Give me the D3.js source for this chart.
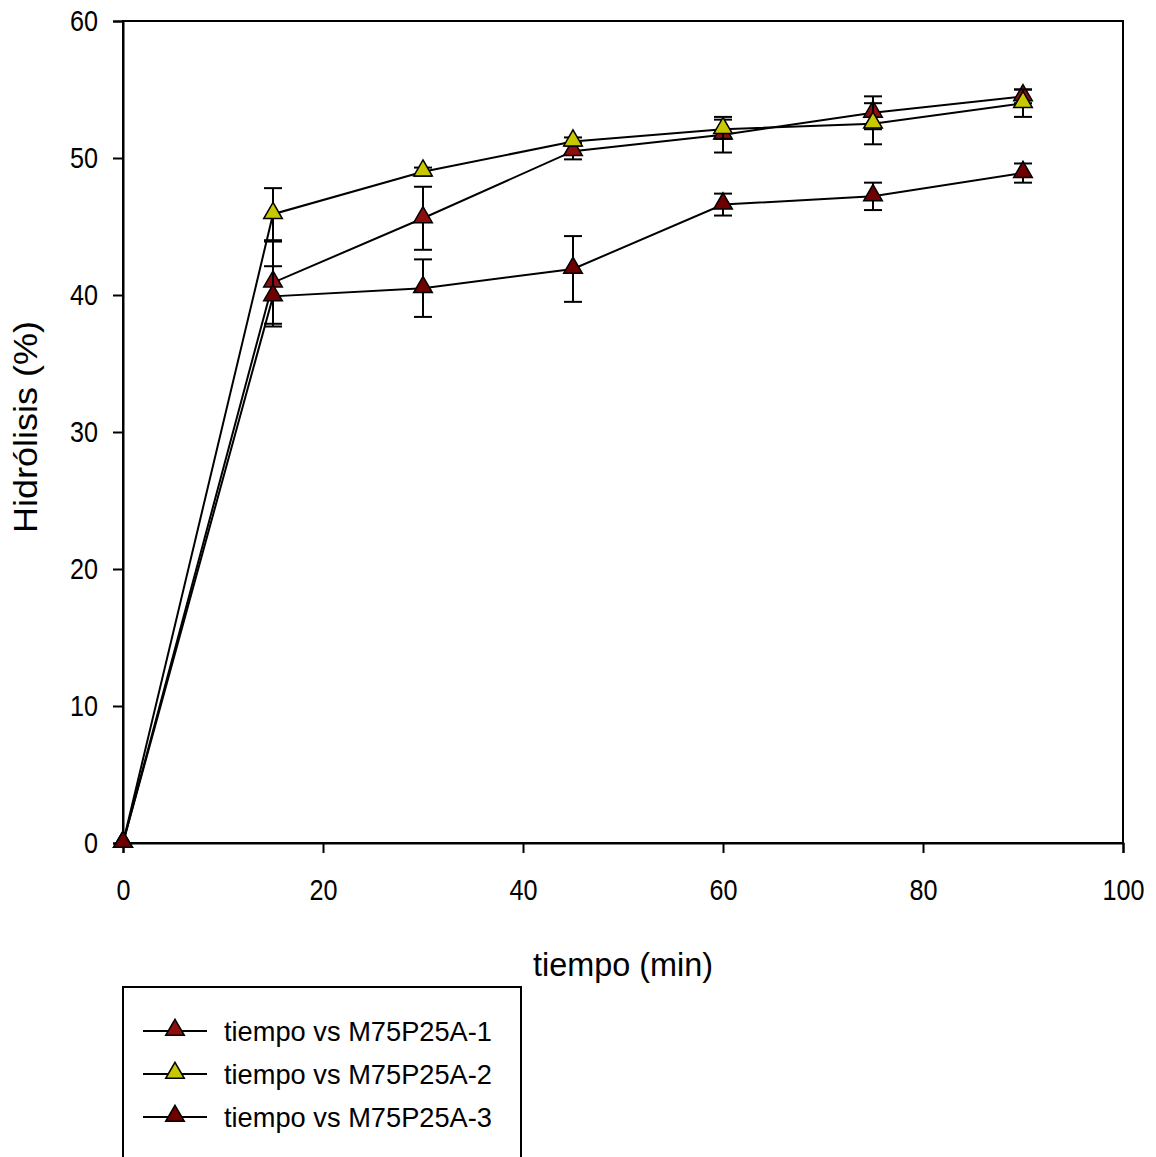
<!DOCTYPE html>
<html>
<head>
<meta charset="utf-8">
<script src="https://cdn.jsdelivr.net/npm/d3@7"></script>
<style>
  body { margin: 0; background: #fff; }
  svg { font-family: "Liberation Sans", Arial, sans-serif; }
</style>
</head>
<body>
<div id="chart"></div>
<script>
// data
const tiempo = [0, 15, 30, 45, 60, 75, 90];
const names = ["tiempo vs M75P25A-1", "tiempo vs M75P25A-2", "tiempo vs M75P25A-3"];
const s1 = [0, 40.9, 45.6, 50.5, 51.7, 53.3, 54.5];
const s1err = [0, 3.0, 2.3, 0.6, 1.3, 1.2, 0.5];
const s2 = [0, 45.9, 49.0, 51.2, 52.1, 52.5, 54.0];
const s2err = [0, 1.9, 0.3, 0.3, 0.7, 1.5, 1.0];
const s3 = [0, 39.9, 40.5, 41.9, 46.6, 47.2, 48.9];
const s3err = [0, 2.2, 2.1, 2.4, 0.8, 1.0, 0.7];
const xTicks = [0, 20, 40, 60, 80, 100];
const yTicks = [0, 10, 20, 30, 40, 50, 60];
const colors = ["#8e0d0d", "#c8c800", "#6e0000"];

const series = [
  {name: names[0], y: s1, e: s1err, color: colors[0]},
  {name: names[1], y: s2, e: s2err, color: colors[1]},
  {name: names[2], y: s3, e: s3err, color: colors[2]}
];

const W = 1156, H = 1157;
const margin = {top: 21, left: 123, right: 33, bottom: 314};
const width = W - margin.left - margin.right;   // 1000
const height = H - margin.top - margin.bottom;  // 822

const svg = d3.select("#chart").append("svg")
  .attr("width", W).attr("height", H);

const g = svg.append("g")
  .attr("transform", "translate(" + margin.left + "," + margin.top + ")");

const x = d3.scaleLinear().domain([0, 100]).range([0, width]);
const y = d3.scaleLinear().domain([0, 60]).range([height, 0]);

// narrow the glyphs a bit, the original font is condensed
function squeeze(sel, perChar) {
  sel.each(function() {
    const t = d3.select(this);
    t.attr("textLength", t.text().length * perChar)
     .attr("lengthAdjust", "spacingAndGlyphs");
  });
}

/* frame */
g.append("rect")
  .attr("width", width).attr("height", height)
  .attr("fill", "none").attr("stroke", "#000").attr("stroke-width", 2);

/* axes */
const xAxis = d3.axisBottom(x).tickValues(xTicks).tickSize(10).tickPadding(26);
const yAxis = d3.axisLeft(y).tickValues(yTicks).tickSize(10).tickPadding(15);

g.append("g")
  .attr("transform", "translate(0," + height + ")")
  .call(xAxis)
  .call(a => a.select(".domain").attr("stroke-width", 2))
  .call(a => a.selectAll(".tick line").attr("stroke-width", 2))
  .call(a => a.selectAll("text").style("font-size", "30px").attr("fill", "#000").call(squeeze, 14));

g.append("g")
  .call(yAxis)
  .call(a => a.select(".domain").attr("stroke-width", 2))
  .call(a => a.selectAll(".tick line").attr("stroke-width", 2))
  .call(a => a.selectAll("text").style("font-size", "30px").attr("fill", "#000").call(squeeze, 14));

/* axis titles */
svg.append("text")
  .attr("x", margin.left + width / 2).attr("y", 976)
  .attr("text-anchor", "middle")
  .style("font-size", "34px")
  .attr("textLength", 180).attr("lengthAdjust", "spacingAndGlyphs")
  .text("tiempo (min)");

svg.append("text")
  .attr("transform", "translate(37,427) rotate(-90)")
  .attr("text-anchor", "middle")
  .style("font-size", "33px")
  .attr("textLength", 212).attr("lengthAdjust", "spacingAndGlyphs")
  .text("Hidrólisis (%)");

const tri = d3.symbol().type(d3.symbolTriangle).size(150);
const capW = 9;

/* series */
series.forEach(s => {
  const pts = tiempo.map((t, i) => ({t: t, v: s.y[i], e: s.e[i]}));
  const sg = g.append("g");

  sg.append("path")
    .datum(pts)
    .attr("fill", "none")
    .attr("stroke", "#000")
    .attr("stroke-width", 2)
    .attr("d", d3.line().x(d => x(d.t)).y(d => y(d.v)));

  const eb = sg.selectAll(".err")
    .data(pts.filter(d => d.e > 0))
    .enter().append("g")
    .attr("stroke", "#000").attr("stroke-width", 2);
  eb.append("line")
    .attr("x1", d => x(d.t)).attr("x2", d => x(d.t))
    .attr("y1", d => y(d.v + d.e)).attr("y2", d => y(d.v - d.e));
  eb.append("line")
    .attr("x1", d => x(d.t) - capW).attr("x2", d => x(d.t) + capW)
    .attr("y1", d => y(d.v + d.e)).attr("y2", d => y(d.v + d.e));
  eb.append("line")
    .attr("x1", d => x(d.t) - capW).attr("x2", d => x(d.t) + capW)
    .attr("y1", d => y(d.v - d.e)).attr("y2", d => y(d.v - d.e));

  sg.selectAll(".mk")
    .data(pts)
    .enter().append("path")
    .attr("d", tri)
    .attr("transform", d => "translate(" + x(d.t) + "," + (y(d.v) - 1) + ")")
    .attr("fill", s.color)
    .attr("stroke", "#000")
    .attr("stroke-width", 1.5);
});

/* legend */
const lg = svg.append("g");
lg.append("rect")
  .attr("x", 123).attr("y", 987)
  .attr("width", 398).attr("height", 200)
  .attr("fill", "#fff").attr("stroke", "#000").attr("stroke-width", 2);

series.forEach((s, i) => {
  const ly = 1031 + i * 43;
  lg.append("line")
    .attr("x1", 143).attr("x2", 207)
    .attr("y1", ly).attr("y2", ly)
    .attr("stroke", "#000").attr("stroke-width", 2);
  lg.append("path")
    .attr("d", tri)
    .attr("transform", "translate(175," + (ly - 1) + ")")
    .attr("fill", s.color).attr("stroke", "#000").attr("stroke-width", 1.5);
  lg.append("text")
    .attr("x", 224).attr("y", ly + 10)
    .style("font-size", "28px")
    .attr("textLength", 268).attr("lengthAdjust", "spacingAndGlyphs")
    .text(s.name);
});
</script>
</body>
</html>
